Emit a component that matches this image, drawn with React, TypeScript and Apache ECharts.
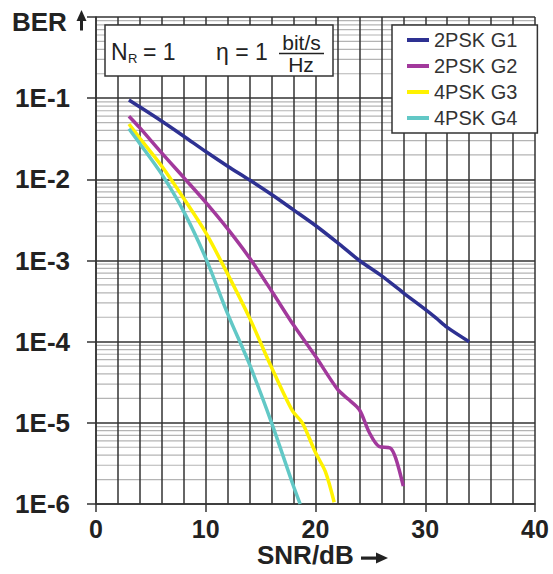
import React, { useEffect, useRef } from 'react';
import * as echarts from 'echarts';

const FONT = '"Liberation Sans", Arial, Helvetica, sans-serif';

// ---- data ----
const seriesNames = ['2PSK G1', '2PSK G2', '4PSK G3', '4PSK G4'];
const seriesColors = ['#2e3192', '#a2399c', '#fff200', '#62c8c6'];

const snrG1 = [3, 4, 6, 8, 10, 12, 14, 16, 18, 20, 22, 24, 26, 28, 30, 31, 32, 34];
const berG1 = [9.5e-2, 7.8e-2, 5.2e-2, 3.4e-2, 2.2e-2, 1.45e-2, 9.8e-3, 6.5e-3, 4.2e-3, 2.7e-3, 1.66e-3, 1.0e-3, 6.5e-4, 4.0e-4, 2.5e-4, 1.95e-4, 1.5e-4, 1.0e-4];

const snrG2 = [3, 4, 6, 8, 10, 12, 14, 16, 18, 20, 22, 23, 24, 24.9, 25.8, 26.8, 27.3, 28];
const berG2 = [6.0e-2, 4.3e-2, 2.1e-2, 1.05e-2, 5.2e-3, 2.45e-3, 1.07e-3, 4.2e-4, 1.6e-4, 6.6e-5, 2.6e-5, 1.95e-5, 1.45e-5, 7.6e-6, 5.1e-6, 4.9e-6, 3.7e-6, 1.66e-6];

const snrG3 = [3, 4, 6, 8, 10, 12, 14, 16, 17.9, 18.8, 20, 20.9, 21.7];
const berG3 = [4.8e-2, 3.2e-2, 1.45e-2, 5.8e-3, 2.2e-3, 6.8e-4, 1.95e-4, 4.8e-5, 1.4e-5, 1.0e-5, 4.3e-6, 2.5e-6, 1.05e-6];

const snrG4 = [3, 4, 6, 8, 10, 12, 14, 16, 17.9, 18.6];
const berG4 = [4.2e-2, 2.75e-2, 1.15e-2, 4.0e-3, 1.07e-3, 2.2e-4, 5.2e-5, 1.0e-5, 1.8e-6, 1.0e-6];

const xMin = 0;
const xMax = 40;
const xGridStep = 2;
const xLabelStep = 10;
const decadeExponents = [-6, -5, -4, -3, -2, -1];
const minorMantissas = [2, 3, 4, 5, 6, 7, 8, 9];

const xAxisName = 'SNR/dB';
const yAxisName = 'BER';

// ---- option helpers ----
const pairs = (xs: number[], ys: number[]) => xs.map((x, i) => [x, ys[i]]);
const allSnr = [snrG1, snrG2, snrG3, snrG4];
const allBer = [berG1, berG2, berG3, berG4];

const minorValues: number[] = [];
decadeExponents.forEach((e) => minorMantissas.forEach((m) => minorValues.push(m * Math.pow(10, e))));

const GRID_LINE = '#333333';

function buildOption(): any {
  return {
    animation: false,
    backgroundColor: '#ffffff',
    grid: { left: 96, right: 18, top: 17, bottom: 70, containLabel: false },
    xAxis: [
      {
        type: 'value',
        min: xMin,
        max: xMax,
        interval: xGridStep,
        position: 'bottom',
        z: 2,
        axisLine: { show: true, lineStyle: { color: GRID_LINE, width: 1.5 } },
        axisTick: { show: false },
        axisLabel: {
          formatter: (v: number) => (v % xLabelStep === 0 ? String(v) : ''),
          fontFamily: FONT,
          fontWeight: 'bold',
          fontSize: 25,
          color: '#222',
          margin: 12,
        },
        splitLine: { show: true, lineStyle: { color: GRID_LINE, width: 1.5 } },
      },
      {
        type: 'value',
        min: xMin,
        max: xMax,
        interval: xLabelStep,
        position: 'bottom',
        z: 2,
        axisLine: { show: false },
        axisTick: { show: true, length: 8, lineStyle: { color: GRID_LINE, width: 1.5 } },
        axisLabel: { show: false },
        splitLine: { show: false },
      },
    ],
    yAxis: {
      type: 'log',
      logBase: 10,
      min: 1e-6,
      max: 1,
      splitNumber: 6,
      z: 2,
      axisLine: { show: true, lineStyle: { color: GRID_LINE, width: 1.5 } },
      axisTick: { show: true, length: 9, lineStyle: { color: GRID_LINE, width: 1.5 } },
      axisLabel: {
        formatter: (v: number) => (v >= 0.5 ? '' : '1E' + Math.round(Math.log10(v))),
        fontFamily: FONT,
        fontWeight: 'bold',
        fontSize: 26,
        color: '#222',
        margin: 26,
      },
      splitLine: { show: true, lineStyle: { color: GRID_LINE, width: 1.5 } },
    },
    legend: {
      data: seriesNames,
      orient: 'vertical',
      left: 392,
      top: 25,
      padding: [5, 20, 5, 15],
      itemGap: 6,
      itemWidth: 22,
      itemHeight: 4,
      icon: 'rect',
      backgroundColor: '#ffffff',
      borderColor: '#333',
      borderWidth: 1.5,
      borderRadius: 0,
      z: 10,
      textStyle: { fontFamily: FONT, fontSize: 20, color: '#333' },
    },
    series: [
      {
        name: 'minor grid',
        type: 'custom',
        silent: true,
        z: 1,
        clip: true,
        data: minorValues.map((v) => [0, v]),
        renderItem: (params: any, api: any) => {
          const v = api.value(1);
          const p = api.coord([0, v]);
          const cs = params.coordSys;
          return {
            type: 'line',
            shape: { x1: cs.x, y1: p[1], x2: cs.x + cs.width, y2: p[1] },
            style: { stroke: '#b4b4b4', lineWidth: 1.2 },
          };
        },
      },
      ...seriesNames.map((name, i) => ({
        name,
        type: 'line',
        data: pairs(allSnr[i], allBer[i]),
        showSymbol: false,
        symbol: 'none',
        smooth: 0.3,
        z: 3,
        color: seriesColors[i],
        lineStyle: { color: seriesColors[i], width: 3.5 },
      })),
    ],
    graphic: [
      {
        type: 'text',
        left: 12,
        top: 9,
        z: 20,
        style: { text: yAxisName, font: `bold 26px ${FONT}`, fill: '#222' },
      },
      {
        type: 'polygon',
        z: 20,
        shape: { points: [[76.5, 21], [81.5, 10], [86.5, 21]] },
        style: { fill: '#222' },
      },
      {
        type: 'rect',
        z: 20,
        shape: { x: 80, y: 20, width: 3, height: 10.5 },
        style: { fill: '#222' },
      },
      {
        type: 'text',
        left: 257,
        top: 542,
        z: 20,
        style: { text: xAxisName, font: `bold 26px ${FONT}`, fill: '#222' },
      },
      {
        type: 'rect',
        z: 20,
        shape: { x: 361, y: 556.5, width: 17, height: 3.2 },
        style: { fill: '#222' },
      },
      {
        type: 'polygon',
        z: 20,
        shape: { points: [[376, 552.5], [388, 558], [376, 563.5]] },
        style: { fill: '#222' },
      },
      // parameter box
      {
        type: 'rect',
        z: 20,
        shape: { x: 105, y: 25, width: 228, height: 51 },
        style: { fill: '#ffffff', stroke: '#333', lineWidth: 1.5 },
      },
      {
        type: 'text', z: 21, x: 111, y: 52,
        style: { text: 'N', font: `23px ${FONT}`, fill: '#222', textVerticalAlign: 'middle', verticalAlign: 'middle' },
      },
      {
        type: 'text', z: 21, x: 128, y: 58,
        style: { text: 'R', font: `13px ${FONT}`, fill: '#222', textVerticalAlign: 'middle', verticalAlign: 'middle' },
      },
      {
        type: 'text', z: 21, x: 143, y: 52,
        style: { text: '= 1', font: `23px ${FONT}`, fill: '#222', textVerticalAlign: 'middle', verticalAlign: 'middle' },
      },
      {
        type: 'text', z: 21, x: 216, y: 52,
        style: { text: 'η = 1', font: `23px ${FONT}`, fill: '#222', textVerticalAlign: 'middle', verticalAlign: 'middle' },
      },
      {
        type: 'text', z: 21, x: 301.5, y: 42.5,
        style: { text: 'bit/s', font: `21px ${FONT}`, fill: '#222', textAlign: 'center', align: 'center', textVerticalAlign: 'middle', verticalAlign: 'middle' },
      },
      {
        type: 'line', z: 21,
        shape: { x1: 279, y1: 53.5, x2: 324, y2: 53.5 },
        style: { stroke: '#222', lineWidth: 1.5 },
      },
      {
        type: 'text', z: 21, x: 301, y: 64.5,
        style: { text: 'Hz', font: `21px ${FONT}`, fill: '#222', textAlign: 'center', align: 'center', textVerticalAlign: 'middle', verticalAlign: 'middle' },
      },
    ],
  };
}

export default function App() {
  const ref = useRef<HTMLDivElement>(null);
  useEffect(() => {
    if (!ref.current) return;
    const chart = echarts.init(ref.current, null, { renderer: 'svg' });
    chart.setOption(buildOption());
    return () => chart.dispose();
  }, []);
  return (
    <div
      ref={ref}
      style={{ position: 'absolute', left: 0, top: 0, width: 553, height: 574, background: '#fff' }}
    />
  );
}
